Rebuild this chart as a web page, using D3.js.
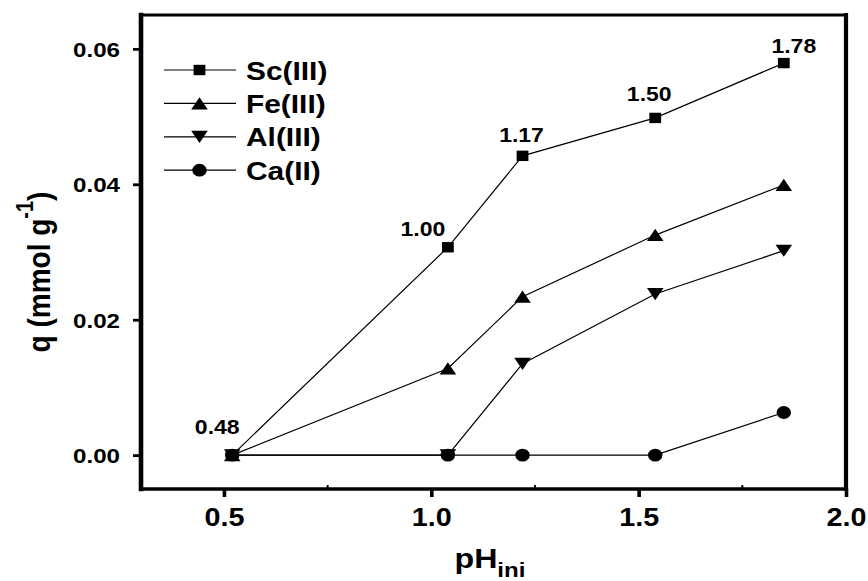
<!DOCTYPE html>
<html>
<head>
<meta charset="utf-8">
<script src="https://cdn.jsdelivr.net/npm/d3@7"></script>
<style>
  html, body { margin: 0; padding: 0; background: #fff; }
  svg { display: block; }
  text { font-family: "Liberation Sans", Arial, Helvetica, sans-serif; font-weight: bold; fill: #000; }
</style>
</head>
<body>
<svg id="chart" width="868" height="581"></svg>
<script>
// Initial pH of the solution (x) and adsorbed amount q (y) for each metal ion
const pHini = [0.52, 1.04, 1.22, 1.54, 1.85];
const scIII = [0.0000, 0.0307, 0.0442, 0.0498, 0.0579];
const feIII = [0.0000, 0.0128, 0.0234, 0.0325, 0.0399];
const alIII = [0.0000, 0.0000, 0.0135, 0.0238, 0.0302];
const caII  = [0.0000, 0.0000, 0.0000, 0.0000, 0.0063];
const seriesNames = ["Sc(III)", "Fe(III)", "Al(III)", "Ca(II)"];
// Equilibrium pH written next to the Sc(III) points
const eqPH = ["0.48", "1.00", "1.17", "1.50", "1.78"];
const xTicks = [0.5, 1.0, 1.5, 2.0];
const xMinorTicks = [0.75, 1.25, 1.75];
const yTicks = [0.00, 0.02, 0.04, 0.06];

// Glyphs are drawn slightly wide
const SX = 1.15;
const plot = { left: 141, right: 846, top: 15, bottom: 489 };

const svg = d3.select("#chart");
const x = d3.scaleLinear().domain([0.3, 2.0]).range([plot.left, plot.right]);
const y = d3.scaleLinear().domain([-0.005, 0.065]).range([plot.bottom, plot.top]);

const series = [scIII, feIII, alIII, caII].map((vals, i) => ({
  name: seriesNames[i],
  shape: ["square", "up", "down", "circle"][i],
  points: vals.map((v, j) => ({ x: pHini[j], y: v }))
}));

function markerPath(shape) {
  const p = d3.path();
  if (shape === "square") {
    p.rect(-5.9, -5.2, 11.8, 10.4);
  } else if (shape === "up") {
    p.moveTo(0, -6.2); p.lineTo(8.3, 6); p.lineTo(-8.3, 6); p.closePath();
  } else if (shape === "down") {
    p.moveTo(0, 6.2); p.lineTo(8.3, -6); p.lineTo(-8.3, -6); p.closePath();
  } else {
    p.ellipse ? p.ellipse(0, 0, 7.2, 6.4, 0, 0, 2 * Math.PI)
              : p.arc(0, 0, 6.6, 0, 2 * Math.PI);
  }
  return p.toString();
}
function ellipsePath(rx, ry) {
  return `M${-rx},0A${rx},${ry} 0 1,0 ${rx},0A${rx},${ry} 0 1,0 ${-rx},0Z`;
}
function shapeD(shape) {
  return shape === "circle" ? ellipsePath(7.2, 6.4) : markerPath(shape);
}

// X axis ticks and labels
const xAxis = svg.append("g")
  .attr("transform", `translate(0,${plot.bottom})`)
  .call(d3.axisBottom(x).tickValues(xTicks).tickFormat(d3.format(".1f"))
        .tickSize(8).tickSizeOuter(0));
xAxis.select(".domain").remove();
xAxis.selectAll(".tick line").attr("stroke", "#000").attr("stroke-width", 3.6);
xAxis.selectAll(".tick text")
  .attr("y", null).attr("dy", null)
  .attr("transform", `translate(0,37) scale(${SX},1)`)
  .style("font-size", "25px");

// Small inner minor ticks on the x axis
svg.append("g").selectAll("line").data(xMinorTicks).join("line")
  .attr("x1", d => x(d)).attr("x2", d => x(d))
  .attr("y1", plot.bottom).attr("y2", plot.bottom - 4)
  .attr("stroke", "#000").attr("stroke-width", 2);

// Y axis ticks and labels
const yAxis = svg.append("g")
  .attr("transform", `translate(${plot.left},0)`)
  .call(d3.axisLeft(y).tickValues(yTicks).tickFormat(d3.format(".2f"))
        .tickSize(8).tickSizeOuter(0));
yAxis.select(".domain").remove();
yAxis.selectAll(".tick line").attr("stroke", "#000").attr("stroke-width", 2.8);
yAxis.selectAll(".tick text")
  .attr("x", null).attr("dy", "0.36em")
  .attr("transform", `translate(-21,0) scale(${SX},1)`)
  .style("font-size", "21px");

// Frame
const frame = svg.append("g").attr("stroke", "#000").attr("stroke-linecap", "square");
frame.append("line").attr("x1", plot.left).attr("x2", plot.right)
  .attr("y1", plot.top).attr("y2", plot.top).attr("stroke-width", 3);
frame.append("line").attr("x1", plot.left).attr("x2", plot.right)
  .attr("y1", plot.bottom).attr("y2", plot.bottom).attr("stroke-width", 3.6);
frame.append("line").attr("x1", plot.left).attr("x2", plot.left)
  .attr("y1", plot.top).attr("y2", plot.bottom).attr("stroke-width", 4.6);
frame.append("line").attr("x1", plot.right).attr("x2", plot.right)
  .attr("y1", plot.top).attr("y2", plot.bottom).attr("stroke-width", 4.2);

// Series lines and markers
const line = d3.line().x(d => x(d.x)).y(d => y(d.y));
const sg = svg.append("g").selectAll("g").data(series).join("g");
sg.append("path")
  .attr("d", d => line(d.points))
  .attr("fill", "none").attr("stroke", "#000").attr("stroke-width", 1.2);
sg.each(function (s) {
  d3.select(this).selectAll(".mk").data(s.points).join("path")
    .attr("class", "mk")
    .attr("d", shapeD(s.shape))
    .attr("transform", d => `translate(${x(d.x)},${y(d.y)})`)
    .attr("fill", "#000");
});

// Equilibrium pH labels beside the Sc(III) points
const labelOffsets = [[-15, -21], [-25, -11], [-1, -14], [-6, -17], [10, -10]];
svg.append("g").selectAll("text").data(series[0].points).join("text")
  .attr("text-anchor", "middle")
  .attr("transform", (d, i) =>
    `translate(${x(d.x) + labelOffsets[i][0]},${y(d.y) + labelOffsets[i][1]}) scale(${SX},1)`)
  .style("font-size", "20px")
  .text((d, i) => eqPH[i]);

// Legend
const legend = svg.append("g");
const legRows = legend.selectAll("g").data(series).join("g")
  .attr("transform", (d, i) => `translate(0,${70 + i * 33.4})`);
legRows.append("line").attr("x1", 164).attr("x2", 236).attr("y1", 0).attr("y2", 0)
  .attr("stroke", "#000").attr("stroke-width", 1.2);
legRows.append("path").attr("d", d => shapeD(d.shape))
  .attr("transform", "translate(199.5,0)").attr("fill", "#000");
legRows.append("text")
  .attr("transform", `translate(246,9.5) scale(${SX},1)`)
  .style("font-size", "26px")
  .text(d => d.name);

// Axis titles
const xTitle = svg.append("text")
  .attr("text-anchor", "middle")
  .attr("transform", `translate(490,568) scale(${SX},1)`)
  .style("font-size", "28px");
xTitle.append("tspan").text("pH");
xTitle.append("tspan").attr("dy", 9).style("font-size", "21px").text("ini");

const yTitle = svg.append("text")
  .attr("text-anchor", "middle")
  .attr("transform", `translate(50,272) scale(${SX},1) rotate(-90)`)
  .style("font-size", "28px");
yTitle.append("tspan").text("q (mmol g");
yTitle.append("tspan").attr("dy", -15).style("font-size", "20px").text("-1");
yTitle.append("tspan").attr("dy", 15).text(")");
</script>
</body>
</html>
